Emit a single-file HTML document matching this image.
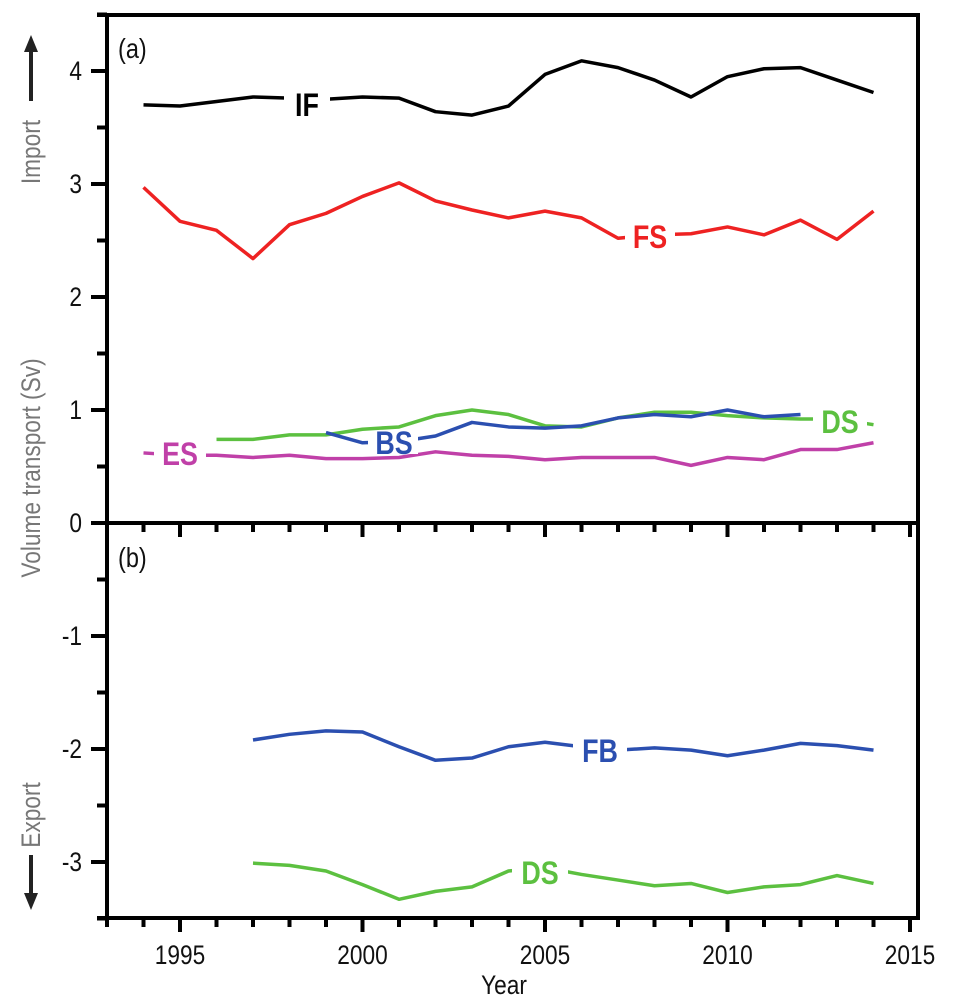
<!DOCTYPE html>
<html><head><meta charset="utf-8"><style>
html,body{margin:0;padding:0;background:#fff;}
svg{display:block;font-family:"Liberation Sans",sans-serif;}
</style></head><body>
<svg id="chart" width="958" height="1005" xmlns="http://www.w3.org/2000/svg"></svg>
<script>
const years = [1994,1995,1996,1997,1998,1999,2000,2001,2002,2003,2004,2005,2006,2007,2008,2009,2010,2011,2012,2013,2014];
const ifVals = [3.70,3.69,3.73,3.77,3.76,3.75,3.77,3.76,3.64,3.61,3.69,3.97,4.09,4.03,3.92,3.77,3.95,4.02,4.03,3.92,3.81];
const fsVals = [2.97,2.67,2.59,2.34,2.64,2.74,2.89,3.01,2.85,2.77,2.70,2.76,2.70,2.52,2.55,2.56,2.62,2.55,2.68,2.51,2.76];
const esVals = [0.62,0.60,0.60,0.58,0.60,0.57,0.57,0.58,0.63,0.60,0.59,0.56,0.58,0.58,0.58,0.51,0.58,0.56,0.65,0.65,0.71];
const dsaYears = [1996,1997,1998,1999,2000,2001,2002,2003,2004,2005,2006,2007,2008,2009,2010,2011,2012,2013,2014];
const dsaVals = [0.74,0.74,0.78,0.78,0.83,0.85,0.95,1.00,0.96,0.86,0.85,0.93,0.98,0.98,0.95,0.93,0.92,0.92,0.87];
const bsYears = [1999,2000,2001,2002,2003,2004,2005,2006,2007,2008,2009,2010,2011,2012];
const bsVals = [0.80,0.71,0.72,0.77,0.89,0.85,0.84,0.86,0.93,0.96,0.94,1.00,0.94,0.96];
const bYears = [1997,1998,1999,2000,2001,2002,2003,2004,2005,2006,2007,2008,2009,2010,2011,2012,2013,2014];
const fbVals = [-1.92,-1.87,-1.84,-1.85,-1.98,-2.10,-2.08,-1.98,-1.94,-1.98,-2.01,-1.99,-2.01,-2.06,-2.01,-1.95,-1.97,-2.01];
const dsbVals = [-3.01,-3.03,-3.08,-3.20,-3.33,-3.26,-3.22,-3.08,-3.05,-3.11,-3.16,-3.21,-3.19,-3.27,-3.22,-3.20,-3.12,-3.19];
const yTicks = [4,3,2,1,0,-1,-2,-3];
const xTicks = [1995,2000,2005,2010,2015];

const NS="http://www.w3.org/2000/svg";
const svg=document.getElementById('chart');
const X=y=>107+(y-1993)*36.5;
const Y=v=>523-v*113;
function el(t,a,p){const e=document.createElementNS(NS,t);for(const k in a)e.setAttribute(k,a[k]);(p||svg).appendChild(e);return e;}
function ctxt(s,x,y,size,anchor,fill,rot,weight){
  const e=el('text',{x:0,y:0,transform:'translate('+x+','+y+')'+(rot?' rotate(-90)':'')+' scale(0.84,1)','text-anchor':anchor,'font-size':size,fill:fill,'font-weight':weight||'normal'});
  e.textContent=s;return e;
}

const f1=el('rect',{x:107,y:15,width:811,height:508,fill:'none',stroke:'#000','stroke-width':4});


const f2=el('rect',{x:107,y:523,width:811,height:395,fill:'none',stroke:'#000','stroke-width':4});


el('line',{x1:97,y1:15,x2:107,y2:15,stroke:'#000','stroke-width':4});
el('line',{x1:97,y1:918,x2:107,y2:918,stroke:'#000','stroke-width':4});

for(let v=-3.5;v<=4.5;v+=0.5){
  const maj=Number.isInteger(v);
  el('line',{x1:maj?91:97,y1:Y(v),x2:107,y2:Y(v),stroke:'#000','stroke-width':4});
}
yTicks.forEach(v=>{
  const t=ctxt(String(v),82,Y(v)+9,27,'end','#111');
  
  
});
for(let yr=1993;yr<=2015;yr++){
  const maj=yr%5===0;
  [523,918].forEach(b=>el('line',{x1:X(yr),y1:b,x2:X(yr),y2:b+(maj?14:9),stroke:'#000','stroke-width':4}));
}
xTicks.forEach(yr=>{
  const t=ctxt(String(yr),X(yr),964,27,'middle','#111');
  
  
});
const xt=ctxt('Year',504,994,27,'middle','#111');



const yl=ctxt('Volume transport (Sv)',40,468,27,'middle','#777',true);


const im=ctxt('Import',40,152,27,'middle','#777',true);


const ex=ctxt('Export',40,815,27,'middle','#777',true);


el('line',{x1:31,y1:101,x2:31,y2:48,stroke:'#222','stroke-width':4});
el('polygon',{points:'31,35 24,52 38,52',fill:'#222'});
el('line',{x1:31,y1:855,x2:31,y2:895,stroke:'#222','stroke-width':4});
el('polygon',{points:'31,910 24,893 38,893',fill:'#222'});

const pa=ctxt('(a)',118,58,28,'start','#111');


const pb=ctxt('(b)',118,567,28,'start','#111');



function series(xs,vs,color,name){
  const p=el('polyline',{points:xs.map((x,i)=>X(x)+','+Y(vs[i])).join(' '),fill:'none',stroke:color,'stroke-width':3.5,'stroke-linejoin':'round'});
  
  
}
function label(s,cx,cy,w,color,name){
  el('rect',{x:cx-w/2,y:cy-13,width:w,height:26,fill:'#fff'});
  const t=ctxt(s,cx,cy+12,32,'middle',color,false,'bold');
  
  
}
series(years,ifVals,'#000','line-if');
label('IF',307,104,46,'#000','label-if');
series(years,fsVals,'#ee2222','line-fs');
label('FS',650,236,50,'#ee2222','label-fs');
series(dsaYears,dsaVals,'#5cc040','line-ds-import');
label('DS',840,421,54,'#5cc040','label-ds-import');
series(years,esVals,'#c040a8','line-es');
label('ES',180,453,52,'#c040a8','label-es');
series(bsYears,bsVals,'#2b4fb0','line-bs');
el('rect',{x:368,y:434,width:50,height:20,fill:'#fff'});
const bs=ctxt('BS',394,454,32,'middle','#2b4fb0',false,'bold');


series(bYears,fbVals,'#2b4fb0','line-fb');
label('FB',600,750,54,'#2b4fb0','label-fb');
series(bYears,dsbVals,'#5cc040','line-ds-export');
label('DS',540,872,56,'#5cc040','label-ds-export');
</script>
</body></html>
